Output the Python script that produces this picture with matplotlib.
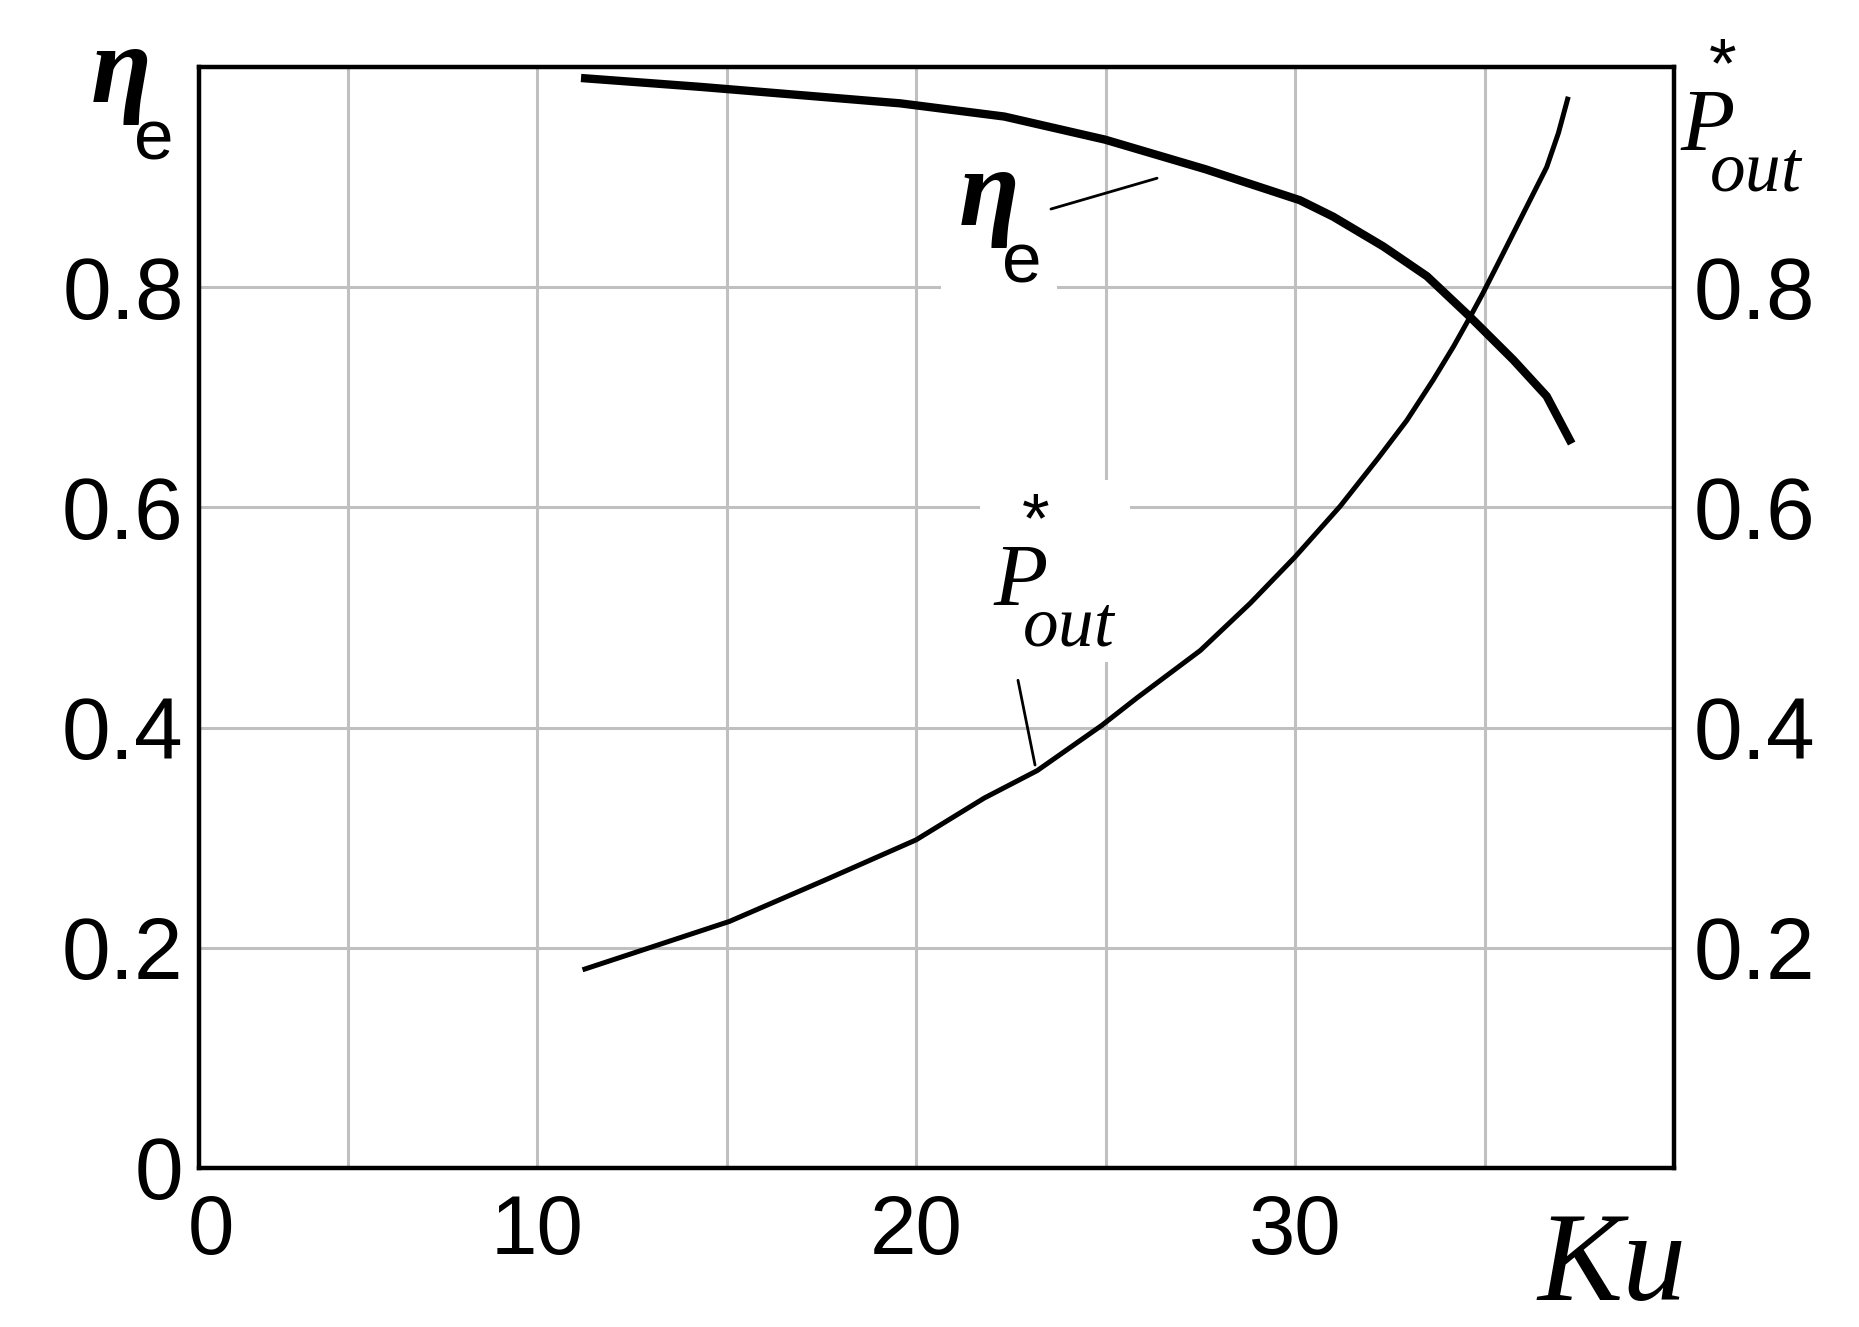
import matplotlib
matplotlib.use('Agg')
import matplotlib.pyplot as plt
from matplotlib import _mathtext
from matplotlib.ticker import FixedLocator

# curves (Ku, value)
ku_eta = [11.16, 14.29, 19.58, 22.33, 24.99, 27.65, 30.13, 31.01, 32.33,
          33.48, 34.62, 35.76, 36.64, 37.30]
eta_e = [0.990, 0.982, 0.967, 0.955, 0.934, 0.907, 0.879, 0.864, 0.837,
         0.810, 0.773, 0.734, 0.701, 0.658]

ku_pout = [11.20, 15.08, 17.63, 20.00, 21.80, 23.20, 24.90, 25.83, 27.50,
           28.82, 30.00, 31.19, 32.20, 32.95, 33.65, 34.18, 34.62, 34.95,
           35.32, 35.76, 36.20, 36.64, 36.95, 37.21]
p_out = [0.180, 0.224, 0.262, 0.298, 0.336, 0.361, 0.402, 0.427, 0.470,
         0.513, 0.555, 0.601, 0.645, 0.679, 0.716, 0.746, 0.773, 0.794,
         0.819, 0.849, 0.879, 0.909, 0.940, 0.973]

x_grid = [5, 10, 15, 20, 25, 30, 35]
y_grid = [0.2, 0.4, 0.6, 0.8]
x_ticks = [1.4, 10, 20, 30]
x_labels = ['0', '10', '20', '30']
y_ticks_left = [0, 0.2, 0.4, 0.6, 0.8]
y_labels_left = ['0', '0.2', '0.4', '0.6', '0.8']
y_ticks_right = [0.2, 0.4, 0.6, 0.8]
y_labels_right = ['0.2', '0.4', '0.6', '0.8']

# "e" is a second-level subscript so it comes out smaller than "out";
# the star sits above the P (pulled back with negative spaces)
eta_label = r'$\mathrm{\mathbf{\eta}_{\!{}_{\!e}}}$'
pout_label = r'$P^{\!\!\!\!\!*}_{\!\!\!out}$'

# leader lines from the inline labels to the curves
eta_leader = [(23.56, 0.871), (26.36, 0.899)]
pout_leader = [(22.69, 0.443), (23.14, 0.366)]

plt.rcParams['mathtext.fontset'] = 'custom'
plt.rcParams['mathtext.it'] = 'Liberation Serif:italic'
plt.rcParams['mathtext.rm'] = 'Liberation Sans'
plt.rcParams['mathtext.bf'] = 'Liberation Serif:italic:bold'


# script sizes / offsets closer to the picture than the mathtext defaults
class EtaConsts(_mathtext.FontConstantsBase):
    sub1 = 0.54


class PoutConsts(_mathtext.FontConstantsBase):
    sub1 = 1.0
    sub2 = 1.0
    sup1 = 1.49


_mathtext.SHRINK_FACTOR = 0.8
_mathtext._font_constant_mapping['Liberation Sans'] = EtaConsts
_mathtext._font_constant_mapping['Liberation Serif'] = PoutConsts

W, H = 1859, 1327
fig = plt.figure(figsize=(W / 100, H / 100), dpi=100)
ax = fig.add_axes([199 / W, 1 - 1168 / H, (1674 - 199) / W, (1168 - 67) / H])
ax.set_xlim(1.08, 40)
ax.set_ylim(0, 1)

sans = 'Liberation Sans'

ax.set_xticks(x_ticks)
ax.set_xticklabels(x_labels, fontsize=60, family=sans)
ax.set_yticks(y_ticks_left)
ax.set_yticklabels(y_labels_left, fontsize=63, family=sans)
ax.xaxis.remove_overlapping_locs = False
ax.yaxis.remove_overlapping_locs = False
ax.xaxis.set_minor_locator(FixedLocator(x_grid))
ax.yaxis.set_minor_locator(FixedLocator(y_grid))
ax.set_axisbelow(True)
ax.grid(which='minor', color='#c0c0c0', lw=2.2)
ax.grid(which='major', visible=False)
ax.tick_params(which='both', length=0)
ax.tick_params(axis='x', pad=18)
ax.tick_params(axis='y', pad=11)
for s in ax.spines.values():
    s.set_linewidth(3.2)

ax2 = ax.twinx()
ax2.set_ylim(0, 1)
ax2.set_yticks(y_ticks_right)
ax2.set_yticklabels(y_labels_right, fontsize=63, family=sans)
ax2.tick_params(length=0, pad=14)
for s in ax2.spines.values():
    s.set_visible(False)

ax.plot(ku_eta, eta_e, color='black', lw=6, solid_joinstyle='round',
        solid_capstyle='butt', zorder=4)
ax.plot(ku_pout, p_out, color='black', lw=3.6, solid_joinstyle='round',
        solid_capstyle='butt', zorder=4)

for (xa, ya), (xb, yb) in [eta_leader, pout_leader]:
    ax.annotate('', xy=(xb, yb), xytext=(xa, ya),
                arrowprops=dict(arrowstyle='-', lw=2, color='black',
                                shrinkA=0, shrinkB=0), zorder=4)

box = dict(facecolor='white', edgecolor='none', boxstyle='square,pad=0.15')


def label(x, y, s, on_axes=False, **kw):
    # x, y in pixels from the top-left corner of the figure, baseline anchor
    target = ax if on_axes else fig
    return target.text(x / W, 1 - y / H, s, transform=fig.transFigure,
                       ha='left', va='baseline', **kw)


# eta_e, top left and inline
label(90, 102, eta_label, fontsize=80)
label(958, 225, eta_label, on_axes=True, fontsize=80, bbox=box, zorder=3)

# P*out, right axis and inline
label(1680, 150, pout_label, fontsize=64)
label(993, 605, pout_label, on_axes=True, fontsize=64, bbox=box, zorder=3)

# Ku, bottom right
label(1537, 1300, 'Ku', fontsize=92, family='Liberation Serif', style='italic')

fig.savefig('out.png', dpi=100)
